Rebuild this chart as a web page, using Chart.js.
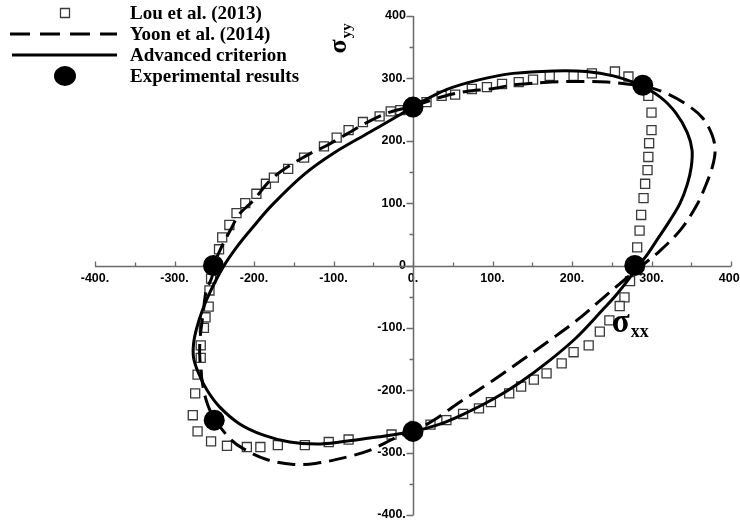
<!DOCTYPE html>
<html>
<head>
<meta charset="utf-8">
<script src="https://cdn.jsdelivr.net/npm/chart.js@4.4.1/dist/chart.umd.min.js"></script>
<style>
  html, body { margin: 0; padding: 0; background: #ffffff; }
  #wrap { width: 740px; height: 522px; }
</style>
</head>
<body>
<div id="wrap"><canvas id="chart" width="740" height="522"></canvas></div>
<script>
// Yield locus in the σxx – σyy plane (MPa)

// Lou et al. (2013) – discrete predicted points
const louX = [36,53,74,93,112,133,151,172,202,225,254,271,296,300,300,297,296,295,292,290,287,285,282,273,266,260,247,235,221,202,187,168,152,136,121,98,83,63,42,22,-27,-81,-106,-136,-170,-192,-209,-234,-254,-271,-277,-274,-271,-267,-267,-263,-261,-257,-256,-254,-244,-240,-231,-222,-211,-197,-185,-175,-157,-137,-112,-96,-81,-63,-42,-28,-16,17];
const louY = [272,274,283,286,291,294,298,304,304,308,311,303,272,245,217,196,174,153,131,108,81,56,29,-25,-51,-65,-88,-106,-128,-139,-157,-173,-183,-194,-205,-219,-229,-238,-248,-255,-271,-279,-283,-288,-288,-291,-291,-289,-282,-266,-240,-205,-175,-148,-128,-100,-83,-66,-40,-21,26,45,65,84,100,115,131,141,155,173,191,205,217,230,239,247,249,262];

// Yoon et al. (2014) – closed locus
const yoonX = [0,38,67,97,130,174,210,244,269,289,315,343,364,376,380,377,369,357,337,311,288,265,240,206,172,139,101,59,26,0,-20,-54,-83,-121,-150,-184,-213,-230,-249,-258,-264,-268,-268,-264,-260,-253,-250,-243,-230,-218,-201,-180,-159,-130,-109,-83,-54,-29,0];
const yoonY = [255,271,279,283,290,294,295,294,291,288,278,259,237,210,186,160,131,97,58,24,0,-24,-51,-88,-120,-150,-184,-219,-248,-266,-275,-296,-307,-317,-319,-311,-294,-278,-247,-224,-195,-152,-120,-77,-40,-19,2,24,56,83,104,136,157,179,192,211,232,246,255];

// Advanced criterion – closed locus
const advX = [0,42,84,126,177,218,252,282,311,331,345,351,350,345,336,323,309,296,284,270,255,240,206,172,135,101,59,30,0,-45,-92,-121,-155,-188,-218,-243,-259,-270,-276,-276,-272,-265,-255,-240,-222,-201,-178,-138,-100,-54,-16,0];
const advY = [255,282,298,308,312,311,304,291,270,244,213,185,158,130,100,72,45,20,0,-24,-48,-69,-115,-152,-187,-214,-241,-256,-266,-275,-283,-286,-283,-272,-254,-227,-200,-172,-148,-125,-100,-72,-42,-5,29,62,96,145,180,214,242,255];

// Experimental yield points
const expX = [0, 289, 279, 0, -250, -251];
const expY = [254, 289, 0, -266, -248, 0];

// Axis ticks
const xTicks = [-400, -300, -200, -100, 0, 100, 200, 300, 400];
const yTicks = [-400, -300, -200, -100, 0, 100, 200, 300, 400];
const minorStep = 50;

const legendLabels = ['Lou et al. (2013)', 'Yoon et al. (2014)', 'Advanced criterion', 'Experimental results'];

const toPoints = (xs, ys) => xs.map((x, i) => ({ x: x, y: ys[i] }));

const AXIS_COLOR = '#6a6a6a';
const TICK_FONT = { family: '"Liberation Sans", Arial, sans-serif', size: 12.5, weight: 'bold' };

// centred axes should not reserve any room in the layout
const noReserve = (s) => {
  s.width = s.isHorizontal() ? s.width : 0;
  s.height = s.isHorizontal() ? 0 : s.height;
  s.paddingLeft = 0; s.paddingRight = 0; s.paddingTop = 0; s.paddingBottom = 0;
};

// Axis lines through the origin plus major/minor tick marks
const axesThroughOrigin = {
  id: 'axesThroughOrigin',
  beforeDatasetsDraw(chart) {
    const { ctx, scales: { x, y } } = chart;
    const x0 = Math.round(x.getPixelForValue(0)) + 0.5;
    const y0 = Math.round(y.getPixelForValue(0)) + 0.5;
    ctx.save();
    ctx.strokeStyle = AXIS_COLOR;
    ctx.lineWidth = 1.5;
    ctx.beginPath();
    ctx.moveTo(x.getPixelForValue(x.min), y0);
    ctx.lineTo(x.getPixelForValue(x.max), y0);
    ctx.moveTo(x0, y.getPixelForValue(y.max));
    ctx.lineTo(x0, y.getPixelForValue(y.min));
    ctx.stroke();
    ctx.lineWidth = 1.3;
    ctx.beginPath();
    for (let v = x.min; v <= x.max; v += minorStep) {
      const px = Math.round(x.getPixelForValue(v)) + 0.5;
      const len = (v % 100 === 0) ? 5 : 4;
      ctx.moveTo(px, y0);
      ctx.lineTo(px, y0 - len);
    }
    for (let v = y.min; v <= y.max; v += minorStep) {
      const py = Math.round(y.getPixelForValue(v)) + 0.5;
      const len = (v % 100 === 0) ? 7 : 4;
      ctx.moveTo(x0, py);
      ctx.lineTo(x0 - len, py);
    }
    ctx.stroke();
    ctx.restore();
  }
};

// Axis symbols σxx and σyy
const axisSymbols = {
  id: 'axisSymbols',
  afterDraw(chart) {
    const { ctx, scales: { x, y } } = chart;
    ctx.save();
    ctx.fillStyle = '#000';
    ctx.textBaseline = 'alphabetic';
    ctx.textAlign = 'left';
    // σxx – horizontal
    const sx = x.getPixelForValue(250);
    const sy = y.getPixelForValue(-106);
    ctx.font = 'bold 33px "Liberation Serif", "DejaVu Serif", serif';
    ctx.fillText('σ', sx, sy);
    const w = ctx.measureText('σ').width;
    ctx.font = 'bold 18px "Liberation Serif", "DejaVu Serif", serif';
    ctx.fillText('xx', sx + w + 1, sy + 5);
    // σyy – rotated, reading upward
    ctx.translate(x.getPixelForValue(-84), y.getPixelForValue(340));
    ctx.rotate(-Math.PI / 2);
    ctx.font = 'bold 26px "Liberation Serif", "DejaVu Serif", serif';
    ctx.fillText('σ', 0, 0);
    const w2 = ctx.measureText('σ').width;
    ctx.font = 'bold 15px "Liberation Serif", "DejaVu Serif", serif';
    ctx.fillText('yy', w2 + 1, 5);
    ctx.restore();
  }
};

// Legend in the upper-left corner, styled from the datasets
const cornerLegend = {
  id: 'cornerLegend',
  afterDraw(chart) {
    const { ctx } = chart;
    const ds = chart.data.datasets;
    const rows = [13, 34, 55, 76];
    const symX = 65, lineL = 10, lineR = 117, textX = 130;
    ctx.save();
    // hollow square
    ctx.strokeStyle = ds[0].pointBorderColor;
    ctx.lineWidth = ds[0].pointBorderWidth;
    ctx.fillStyle = '#fff';
    ctx.beginPath();
    ctx.rect(symX - 4.5, rows[0] - 4.5, 9, 9);
    ctx.fill();
    ctx.stroke();
    // dashed line
    ctx.strokeStyle = ds[1].borderColor;
    ctx.lineWidth = ds[1].borderWidth;
    ctx.setLineDash([20, 10]);
    ctx.beginPath();
    ctx.moveTo(lineL, rows[1]);
    ctx.lineTo(lineR, rows[1]);
    ctx.stroke();
    // solid line
    ctx.setLineDash([]);
    ctx.strokeStyle = ds[2].borderColor;
    ctx.lineWidth = ds[2].borderWidth;
    ctx.beginPath();
    ctx.moveTo(lineL + 2, rows[2]);
    ctx.lineTo(lineR, rows[2]);
    ctx.stroke();
    // filled circle
    ctx.fillStyle = ds[3].backgroundColor;
    ctx.beginPath();
    ctx.ellipse(symX, rows[3], 11, 10, 0, 0, Math.PI * 2);
    ctx.fill();
    // labels
    ctx.fillStyle = '#000';
    ctx.font = 'bold 19px "Liberation Serif", "Times New Roman", serif';
    ctx.textBaseline = 'middle';
    ctx.textAlign = 'left';
    legendLabels.forEach((t, i) => ctx.fillText(t, textX, rows[i] + 1));
    ctx.restore();
  }
};

new Chart(document.getElementById('chart'), {
  type: 'scatter',
  data: {
    datasets: [
      {
        label: legendLabels[0],
        data: toPoints(louX, louY),
        showLine: false,
        pointStyle: 'rect',
        pointRadius: 6.4,
        pointBorderWidth: 1.3,
        borderColor: '#3a3a3a',
        backgroundColor: '#ffffff',
        pointBackgroundColor: '#ffffff',
        pointBorderColor: '#3a3a3a',
        order: 4
      },
      {
        label: legendLabels[1],
        data: toPoints(yoonX, yoonY),
        showLine: true,
        borderColor: '#000000',
        borderWidth: 3,
        borderDash: [18, 8],
        tension: 0.35,
        pointRadius: 0,
        fill: false,
        order: 3
      },
      {
        label: legendLabels[2],
        data: toPoints(advX, advY),
        showLine: true,
        borderColor: '#000000',
        borderWidth: 3,
        tension: 0.35,
        pointRadius: 0,
        fill: false,
        order: 2
      },
      {
        label: legendLabels[3],
        data: toPoints(expX, expY),
        showLine: false,
        pointStyle: 'circle',
        pointRadius: 10.5,
        borderColor: '#000000',
        backgroundColor: '#000000',
        pointBackgroundColor: '#000000',
        pointBorderWidth: 0,
        order: 1
      }
    ]
  },
  options: {
    responsive: false,
    animation: false,
    devicePixelRatio: 1,
    layout: { autoPadding: false, padding: { left: 95, right: 9, top: 16, bottom: 7 } },
    plugins: { legend: { display: false }, tooltip: { enabled: false } },
    scales: {
      x: {
        type: 'linear',
        min: -400, max: 400,
        position: { y: 0 },
        afterFit: noReserve,
        afterBuildTicks: (s) => { s.ticks = xTicks.map(v => ({ value: v })); },
        ticks: { color: '#000', font: TICK_FONT, padding: -2, maxRotation: 0, autoSkip: false,
                 callback: (v) => v + '.' },
        grid: { display: false },
        border: { display: false }
      },
      y: {
        type: 'linear',
        min: -400, max: 400,
        // labels sit just left of the vertical axis through x = 0
        position: { x: -9 },
        afterFit: noReserve,
        afterBuildTicks: (s) => { s.ticks = yTicks.map(v => ({ value: v })); },
        ticks: { color: '#000', font: TICK_FONT, autoSkip: false,
                 callback: (v) => (v === 0 || v === 400) ? String(v) : v + '.' },
        grid: { display: false },
        border: { display: false }
      }
    }
  },
  plugins: [axesThroughOrigin, axisSymbols, cornerLegend]
});
</script>
</body>
</html>
